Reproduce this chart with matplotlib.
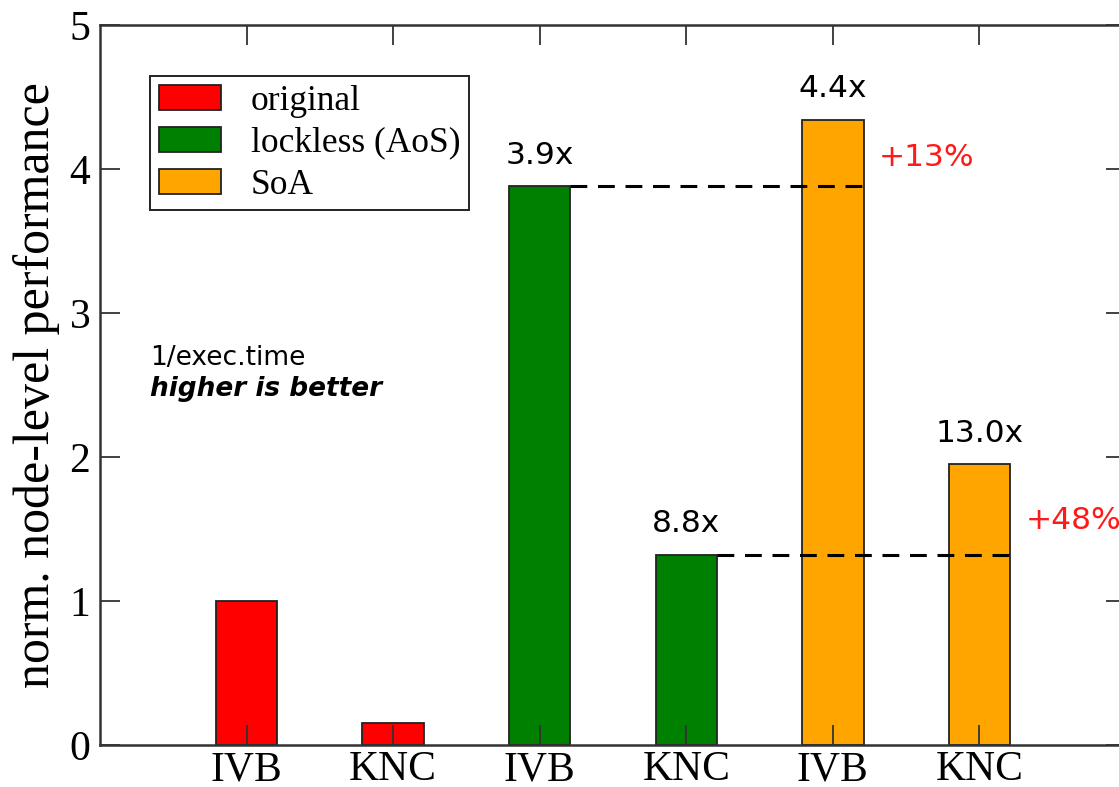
import numpy as np
import matplotlib.pyplot as plt
from matplotlib.patches import Patch

# data
machines = ['IVB', 'KNC', 'IVB', 'KNC', 'IVB', 'KNC']
versions = ['original', 'lockless (AoS)', 'SoA']
perf = [1.0, 0.15, 3.88, 1.32, 4.34, 1.95]
bar_version = [0, 0, 1, 1, 2, 2]
speedup_labels = ['', '', '3.9x', '8.8x', '4.4x', '13.0x']
gain_labels = ['+13%', '+48%']
colors = ['#ff0000', '#008000', '#ffa500']

fig = plt.figure(figsize=(11.19, 7.87), dpi=100)
ax = fig.add_axes([100 / 1119, 1 - 745 / 787, 1026 / 1119, 720 / 787])
ax.set_axisbelow(False)

x = np.arange(1, len(perf) + 1)
ax.bar(x, perf, width=0.42, color=[colors[v] for v in bar_version],
       edgecolor='#222222', linewidth=1.3, zorder=2)

# speedup labels above bars
for xi, h, lab in zip(x, perf, speedup_labels):
    if lab:
        ax.annotate(lab, (xi, h), xytext=(0, 12), textcoords='offset points',
                    ha='center', va='bottom', fontsize=22.5,
                    family='DejaVu Sans', color='black')

# dashed reference lines from lockless to SoA bars, with the gain next to them
gain_y = [4.08, 1.56]
for i, (src, dst) in enumerate([(2, 4), (3, 5)]):
    ax.plot([x[src] + 0.21, x[dst] + 0.21], [perf[src], perf[src]],
            color='black', linestyle=(0, (5.5, 3.5)), linewidth=2.2, zorder=3)
    ax.annotate(gain_labels[i], (x[dst] + 0.21, gain_y[i]),
                xytext=(11, 0), textcoords='offset points',
                ha='left', va='center', fontsize=22.5,
                family='DejaVu Sans', color='#ff1a1a')

ax.text(0.34, 2.6, '1/exec.time', fontsize=19, family='DejaVu Sans',
        va='bottom', ha='left')
ax.text(0.34, 2.56, 'higher is better', fontsize=19, family='DejaVu Sans',
        fontweight='bold', fontstyle='italic', va='top', ha='left')

ax.set_xlim(0, 7)
ax.set_ylim(0, 5)
ax.set_xticks(x)
ax.set_xticklabels(machines)
ax.set_yticks(range(6))
ax.tick_params(direction='in', length=14.5, width=1.3, top=True, right=True,
               labelsize=30, color='#333333')
ax.tick_params(axis='x', pad=4)
ax.tick_params(axis='y', pad=7)
for lab in ax.get_xticklabels() + ax.get_yticklabels():
    lab.set_family('Liberation Serif')
for sp in ax.spines.values():
    sp.set_linewidth(1.8)
    sp.set_color('#333333')
    sp.set_zorder(4)

ax.set_ylabel('norm. node-level performance', fontsize=36,
              family='Liberation Serif', labelpad=7)

handles = [Patch(facecolor=c, edgecolor='#222222', linewidth=1.3) for c in colors]
leg = ax.legend(handles, versions, loc='upper left',
                bbox_to_anchor=(50 / 1026, 1 - 51 / 720), borderaxespad=0,
                prop={'family': 'Liberation Serif', 'size': 25.5},
                handlelength=1.75, handleheight=0.7, handletextpad=0.85,
                labelspacing=0.25, borderpad=0.25, fancybox=False,
                frameon=True, framealpha=1, edgecolor='#222222')
leg.get_frame().set_linewidth(1.4)
leg.set_zorder(5)

fig.savefig('out.png', dpi=100)
